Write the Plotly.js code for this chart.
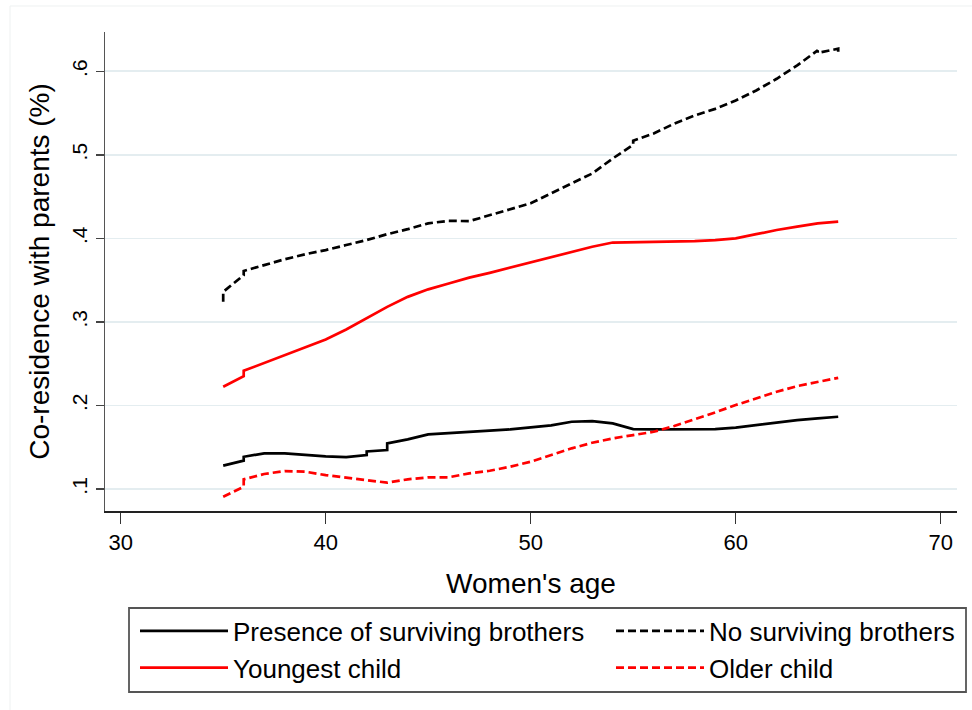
<!DOCTYPE html>
<html>
<head>
<meta charset="utf-8">
<script src="https://cdn.plot.ly/plotly-3.0.1.min.js"></script>
<style>html,body{margin:0;padding:0;background:#fff;}#chart{width:972px;height:710px;}</style>
</head>
<body>
<div id="chart"></div>
<script>
// Series names
const seriesNames = ["Presence of surviving brothers", "No surviving brothers", "Youngest child", "Older child"];

// Presence of surviving brothers (black solid)
const agePresence = [35,36,36,37,38,39,40,41,42,42,43,43,44,45,46,47,48,49,50,51,52,53,54,55,56,57,58,59,60,61,62,63,64,65];
const valPresence = [.128,.134,.1386,.1427,.1427,.1407,.139,.1383,.1407,.145,.1467,.1547,.1594,.1654,.1666,.1678,.1698,.1714,.1734,.1762,.1805,.1813,.1786,.1718,.1714,.1718,.1722,.1718,.1734,.1766,.1793,.1825,.1845,.1865];

// No surviving brothers (black dashed)
const ageNoBrothers = [35,35,36,36,37,38,39,40,41,42,43,44,45,46,47,48,49,50,51,52,53,54,55,55,56,57,58,59,60,61,62,63,64,64,65,65];
const valNoBrothers = [.324,.336,.356,.361,.368,.375,.381,.386,.392,.398,.405,.411,.418,.421,.4206,.428,.4345,.442,.454,.466,.4776,.4956,.512,.517,.5255,.5374,.547,.555,.565,.577,.591,.607,.625,.622,.627,.620];

// Youngest child (red solid)
const ageYoungest = [35,36,36,37,38,39,40,41,42,43,44,45,46,47,48,49,50,51,52,53,54,55,56,57,58,59,60,61,62,63,64,65];
const valYoungest = [.2224,.235,.2415,.251,.260,.2695,.279,.291,.305,.318,.330,.339,.346,.353,.3587,.365,.372,.378,.384,.390,.395,.3955,.3955,.396,.3967,.398,.400,.405,.410,.414,.418,.420];

// Older child (red dashed)
const ageOlder = [35,36,36,37,38,39,40,41,42,43,44,45,46,47,48,49,50,51,52,53,54,55,56,57,58,59,60,61,62,63,64,65];
const valOlder = [.0908,.1028,.1116,.118,.1215,.1207,.1167,.1135,.1108,.1076,.1116,.114,.114,.1188,.1219,.1267,.1327,.1407,.1487,.1554,.1606,.1646,.1685,.1754,.1834,.1917,.2005,.2085,.2164,.2232,.2284,.2331];

// Tick labels
const xTickVals = [30, 40, 50, 60, 70];
const xTickLabels = ["30", "40", "50", "60", "70"];
const yTickVals = [0.1, 0.2, 0.3, 0.4, 0.5, 0.6];
const yTickLabels = [".1", ".2", ".3", ".4", ".5", ".6"];

const xTitle = "Women's age";
const yTitle = "Co-residence with parents (%)";

const FONT = "'Liberation Sans', Arial, Helvetica, sans-serif";
const DASH = "8px,4px";

function mk(name, x, y, color, dash, legendId) {
  return {
    type: 'scatter', mode: 'lines', name: name, x: x, y: y,
    line: {color: color, width: 2.7, dash: dash},
    legend: legendId, hoverinfo: 'skip'
  };
}

const traces = [
  mk(seriesNames[0], agePresence, valPresence, '#000000', 'solid', 'legend'),
  mk(seriesNames[2], ageYoungest, valYoungest, '#ff0000', 'solid', 'legend'),
  mk(seriesNames[1], ageNoBrothers, valNoBrothers, '#000000', DASH, 'legend2'),
  mk(seriesNames[3], ageOlder, valOlder, '#ff0000', DASH, 'legend2')
];

const legendCommon = {
  orientation: 'v', traceorder: 'normal', yanchor: 'top', xanchor: 'left',
  borderwidth: 0, bgcolor: 'rgba(0,0,0,0)',
  font: {family: FONT, size: 26, color: '#000000'},
  itemwidth: 88, tracegroupgap: 0
};

const layout = {
  width: 972, height: 710,
  margin: {l: 105, r: 15, t: 32, b: 199, pad: 0, autoexpand: false},
  paper_bgcolor: '#ffffff', plot_bgcolor: '#ffffff',
  font: {family: FONT, color: '#000000', size: 21},
  showlegend: true,
  xaxis: {
    range: [29.234, 70.795], tickmode: 'array', tickvals: xTickVals, ticktext: xTickLabels,
    ticks: 'outside', ticklen: 11, tickwidth: 1.5, tickcolor: '#333333',
    showline: true, linecolor: '#222222', linewidth: 1.5,
    showgrid: false, zeroline: false, fixedrange: true,
    tickfont: {family: FONT, size: 22, color: '#000000'},
    title: {text: xTitle, font: {family: FONT, size: 28, color: '#000000'}, standoff: 19},
    automargin: false
  },
  yaxis: {
    range: [0.0737, 0.647], tickmode: 'array', tickvals: yTickVals, ticktext: yTickLabels,
    tickangle: -90,
    ticks: 'outside', ticklen: 8, tickwidth: 1.5, tickcolor: '#444444',
    showline: true, linecolor: '#555555', linewidth: 1.5,
    showgrid: true, gridcolor: '#e4edf0', gridwidth: 1.6, zeroline: false, fixedrange: true,
    tickfont: {family: FONT, size: 21, color: '#000000'},
    title: {text: yTitle, font: {family: FONT, size: 28, color: '#000000'}, standoff: 10},
    automargin: false
  },
  legend: Object.assign({}, legendCommon, {x: (135 - 105) / 852, y: -(607.5 - 511) / 479}),
  legend2: Object.assign({}, legendCommon, {x: (611 - 105) / 852, y: -(607.5 - 511) / 479}),
  shapes: [
    // faint outer graph-region frame
    {type: 'rect', xref: 'paper', yref: 'paper', x0: -0.1115, x1: 1.2, y0: -0.6, y1: 1.0543,
     line: {color: '#eef1f1', width: 1}, fillcolor: 'rgba(0,0,0,0)', layer: 'below'},
    // legend frame
    {type: 'rect', xref: 'paper', yref: 'paper',
     x0: (129 - 105) / 852, x1: (966 - 105) / 852, y0: -(692 - 511) / 479, y1: -(608 - 511) / 479,
     line: {color: '#555555', width: 1.8}, fillcolor: 'rgba(0,0,0,0)', layer: 'above'}
  ]
};

Plotly.newPlot('chart', traces, layout, {displayModeBar: false, staticPlot: true});
</script>
</body>
</html>
